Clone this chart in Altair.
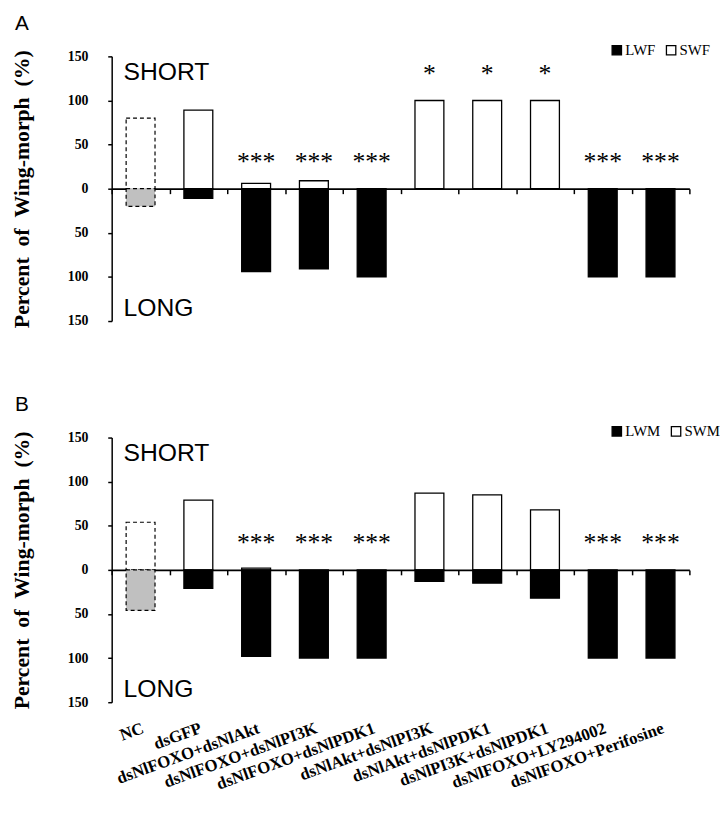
import altair as alt
import pandas as pd

categories = ["NC", "dsGFP", "dsNlFOXO+dsNlAkt", "dsNlFOXO+dsNlPI3K", "dsNlFOXO+dsNlPDK1",
              "dsNlAkt+dsNlPI3K", "dsNlAkt+dsNlPDK1", "dsNlPI3K+dsNlPDK1",
              "dsNlFOXO+LY294002", "dsNlFOXO+Perifosine"]

a_short = [80, 89, 6, 9, 0, 100, 100, 100, 0, 0]
a_long = [20, 11, 94, 91, 100, 0, 0, 0, 100, 100]
a_stars = ["", "", "***", "***", "***", "*", "*", "*", "***", "***"]

b_short = [54, 79, 2, 0, 0, 87, 85, 68, 0, 0]
b_long = [46, 21, 98, 100, 100, 13, 15, 32, 100, 100]
b_stars = ["", "", "***", "***", "***", "", "", "", "***", "***"]

W, H = 585, 268
SERIF = "Liberation Serif"
SANS = "Liberation Sans"
NB = "\u00a0"


def panel(short, long, stars, long_name, short_name, letter, show_labels):
    rows = []
    for c, s, l in zip(categories, short, long):
        if s > 0:
            rows.append({"cat": c, "series": short_name, "value": s, "kind": "S"})
        if l > 0:
            rows.append({"cat": c, "series": long_name, "value": -l, "kind": "L"})
    df = pd.DataFrame(rows)
    star_rows = []
    for c, s, st in zip(categories, short, stars):
        lvl = s + 21 if s >= 50 else 21
        star_rows.append({"cat": c, "star": st, "lvl": lvl})
    sdf = pd.DataFrame(star_rows)

    xscale = alt.Scale(type="band", domain=categories, paddingInner=0, paddingOuter=0)
    yscale = alt.Scale(domain=[-150, 150], nice=False)
    ytitle = f"Percent{NB}{NB}of{NB}{NB}Wing-morph{NB}{NB}(%)"
    yaxis = alt.Axis(values=[-150, -100, -50, 0, 50, 100, 150], labelExpr="abs(datum.value)",
                     title=ytitle, grid=False, domainColor="black",
                     domainWidth=1.5, tickColor="black", tickWidth=1.5, tickSize=4,
                     labelFont=SERIF, labelFontWeight="bold", labelFontSize=14, labelColor="black",
                     labelPadding=20, titleFont=SERIF, titleFontWeight="bold", titleFontSize=22,
                     titleColor="black", titlePadding=34)
    bar_xaxis = alt.Axis(orient="bottom", offset=-H / 2, labels=False, title=None, tickBand="extent",
                         tickSize=5, tickColor="black", tickWidth=1.5, domainColor="black",
                         domainWidth=1.8)

    main = df[df["cat"] != "NC"]
    nc = df[df["cat"] == "NC"]

    bars = alt.Chart(main).mark_bar(stroke="black", strokeWidth=1.3,
                                    width=alt.RelativeBandSize(0.5)).encode(
        x=alt.X("cat:N", scale=xscale, axis=bar_xaxis, sort=categories),
        y=alt.Y("value:Q", scale=yscale, axis=yaxis),
        color=alt.Color("series:N", scale=alt.Scale(domain=[long_name, short_name], range=["black", "white"]),
                        legend=alt.Legend(orient="none", legendX=504, legendY=-14, direction="horizontal",
                                          title=None, symbolType="square", symbolSize=90,
                                          symbolStrokeColor="black", symbolStrokeWidth=1.3,
                                          labelFont=SERIF, labelFontSize=15, labelColor="black",
                                          columnPadding=8, labelOffset=1)),
    )
    ncbars = alt.Chart(nc).mark_bar(stroke="black", strokeWidth=1.2, strokeDash=[4, 3],
                                    width=alt.RelativeBandSize(0.5)).encode(
        x=alt.X("cat:N", scale=xscale, axis=None, sort=categories),
        y=alt.Y("value:Q", scale=yscale),
        fill=alt.condition("datum.kind == 'L'", alt.value("#c0c0c0"), alt.value("white")),
    )
    if show_labels:
        lab_axis = alt.Axis(orient="bottom", title=None, domain=False, ticks=False, labelAngle=340,
                            labelAlign="right", labelBaseline="top", labelFont=SERIF,
                            labelFontWeight="bold", labelFontSize=17, labelColor="black",
                            labelPadding=18, labelOverlap=False, labelLimit=300)
    else:
        lab_axis = None
    starlayer = alt.Chart(sdf).mark_text(font=SERIF, fontSize=26, color="black", baseline="alphabetic").encode(
        x=alt.X("cat:N", scale=xscale, axis=lab_axis, sort=categories),
        y=alt.Y("lvl:Q", scale=yscale),
        text="star:N",
    )
    short_t = alt.Chart(pd.DataFrame({"t": ["SHORT"]})).mark_text(
        font=SANS, fontSize=25, align="left", baseline="top", color="black", dy=4).encode(
        x=alt.value(12), y=alt.Y(datum=150, scale=yscale), text="t:N")
    long_t = alt.Chart(pd.DataFrame({"t": ["LONG"]})).mark_text(
        font=SANS, fontSize=25, align="left", baseline="bottom", color="black", dy=0).encode(
        x=alt.value(12), y=alt.Y(datum=-150, scale=yscale), text="t:N")

    return alt.layer(ncbars, bars, starlayer, short_t, long_t).resolve_axis(x="independent").properties(
        width=W, height=H,
        title=alt.TitleParams(letter, anchor="start", frame="bounds", font=SANS, fontSize=21,
                              fontWeight="normal", color="black", offset=9, dx=4))


pa = panel(a_short, a_long, a_stars, "LWF", "SWF", "A", False)
pb = panel(b_short, b_long, b_stars, "LWM", "SWM", "B", True)

chart = alt.vconcat(pa, pb, spacing=67).resolve_scale(
    color="independent", x="independent", y="independent"
).properties(
    padding={"left": 2, "top": 0, "right": 0, "bottom": 0}
).configure_view(stroke=None)

chart.save("out.html", embed_options={"renderer": "svg", "actions": False})
